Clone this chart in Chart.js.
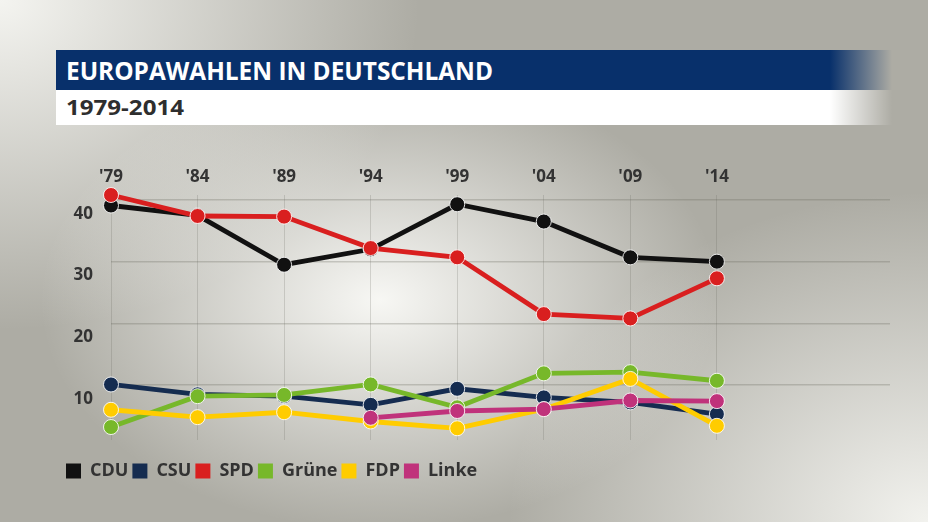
<!DOCTYPE html>
<html><head><meta charset="utf-8">
<script src="https://cdn.jsdelivr.net/npm/chart.js@4/dist/chart.umd.min.js"></script>
<style>
html,body{margin:0;padding:0;width:928px;height:522px;overflow:hidden;}
body{
  background:
    radial-gradient(ellipse 340px 230px at 380px 300px, rgba(251,251,248,0.95) 0%, rgba(251,251,248,0) 100%),
    radial-gradient(ellipse 420px 330px at 0px 0px, rgba(244,244,240,1) 0%, rgba(244,244,240,0) 100%),
    radial-gradient(ellipse 420px 330px at 928px 522px, rgba(242,242,238,1) 0%, rgba(242,242,238,0) 100%),
    #adaca4;
}
#titlebar{position:absolute;left:56px;top:50px;width:836px;height:40px;background:linear-gradient(to right,#08306b 0px,#08306b 774px,rgba(8,48,107,0) 836px);}
#subbar{position:absolute;left:56px;top:90px;width:836px;height:35px;background:linear-gradient(to right,#ffffff 0px,#ffffff 774px,rgba(255,255,255,0) 836px);}
.t{position:absolute;left:10px;top:0;white-space:nowrap;transform-origin:0 50%;font-family:"Open Sans",sans-serif;font-weight:700;}
#title{color:#ffffff;font-size:25px;line-height:40px;}
#sub{color:#2e2e2e;font-size:21px;line-height:35px;}
canvas{position:absolute;left:0;top:0;}
</style>
</head>
<body>
<div id="titlebar"><span class="t" id="title">EUROPAWAHLEN IN DEUTSCHLAND</span></div>
<div id="subbar"><span class="t" id="sub">1979-2014</span></div>
<canvas id="c" width="928" height="522"></canvas>
<script>
const yearLabels = ["'79","'84","'89","'94","'99","'04","'09","'14"];
const cdu    = [39.1, 37.5, 29.5, 32.0, 39.3, 36.5, 30.7, 30.0];
const csu    = [10.1,  8.5,  8.2,  6.8,  9.4,  8.0,  7.2,  5.3];
const spd    = [40.8, 37.4, 37.3, 32.2, 30.7, 21.5, 20.8, 27.3];
const gruene = [ 3.2,  8.2,  8.4, 10.1,  6.4, 11.9, 12.1, 10.7];
const fdp    = [ 6.0,  4.8,  5.6,  4.1,  3.0,  6.1, 11.0,  3.4];
const linke  = [null, null, null,  4.7,  5.8,  6.1,  7.5,  7.4];
const yTicks = [10, 20, 30, 40];
const seriesNames = ["CDU","CSU","SPD","Grüne","FDP","Linke"];

function fit(id, w){
  const el = document.getElementById(id);
  el.style.transform = 'none';
  const r = el.getBoundingClientRect().width;
  if (r > 0) el.style.transform = 'scaleX(' + (w / r) + ')';
}
function fitAll(){ fit('title', 427); fit('sub', 118); }
fitAll();
if (document.fonts && document.fonts.ready) document.fonts.ready.then(fitAll);

const colors = ['#111111', '#152c50', '#d91f1f', '#77b82a', '#ffcc00', '#c0327b'];
const seriesValues = [cdu, csu, spd, gruene, fdp, linke];
const font = {family: '"Open Sans", sans-serif', size: 17, weight: 'bold'};

const datasets = seriesValues.map((vals, k) => ({
  label: seriesNames[k],
  data: vals.map((v, i) => ({x: i, y: v})),
  borderColor: colors[k],
  backgroundColor: colors[k],
  borderWidth: 4.8,
  pointRadius: 7.5,
  pointHoverRadius: 7.5,
  pointBackgroundColor: colors[k],
  pointBorderColor: 'rgba(255,255,255,0.85)',
  pointBorderWidth: 1,
  tension: 0,
  clip: false,
  order: seriesValues.length - k,
  xAxisID: 'x',
  yAxisID: 'y'
}));

new Chart(document.getElementById('c'), {
  type: 'line',
  data: {datasets},
  options: {
    responsive: false,
    animation: false,
    layout: {padding: {left: 62, right: 38, top: 135, bottom: 32}},
    plugins: {
      tooltip: {enabled: false},
      legend: {
        position: 'bottom',
        align: 'start',
        labels: {
          boxWidth: 15, boxHeight: 15, padding: 4,
          usePointStyle: false,
          color: '#333333',
          font: {family: '"Open Sans", sans-serif', size: 18, weight: 'bold'},
          generateLabels(chart){
            return chart.data.datasets.map((ds, i) => ({
              text: ds.label, fillStyle: ds.borderColor,
              strokeStyle: ds.borderColor, lineWidth: 0,
              hidden: false, datasetIndex: i, fontColor: '#333333', borderRadius: 0
            }));
          }
        }
      }
    },
    scales: {
      x: {
        type: 'linear', position: 'top', min: 0, max: 9,
        afterBuildTicks: s => { s.ticks = yearLabels.map((_, i) => ({value: i})); },
        afterFit: s => { s.height = 60; },
        ticks: {callback: v => yearLabels[v], padding: 8, font, color: '#333333', autoSkip: false, maxRotation: 0},
        grid: {color: 'rgba(100,100,90,0.22)', lineWidth: 1, drawTicks: false},
        border: {display: false}
      },
      xb: {
        type: 'linear', position: 'bottom', axis: 'x',
        afterFit: s => { s.height = 18; },
        ticks: {display: false},
        grid: {display: false, drawTicks: false},
        border: {display: false}
      },
      y: {
        min: 1.1, max: 40.8,
        afterBuildTicks: s => { s.ticks = yTicks.map(v => ({value: v})); },
        afterFit: s => { s.width = 49; },
        ticks: {padding: 18, labelOffset: 14, font, color: '#333333'},
        grid: {color: 'rgba(100,100,90,0.28)', lineWidth: 1.5, drawTicks: false},
        border: {display: false}
      }
    }
  }
});
</script>
</body></html>
